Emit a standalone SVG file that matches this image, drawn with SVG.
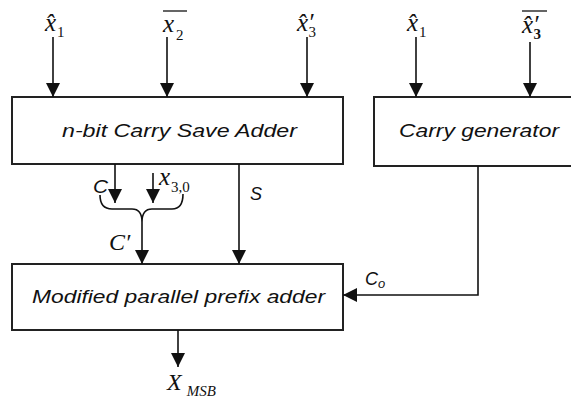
<svg xmlns="http://www.w3.org/2000/svg" width="571" height="399" viewBox="0 0 571 399">
  <defs>
    <marker id="arrow" markerUnits="userSpaceOnUse" markerWidth="14" markerHeight="14" refX="14" refY="7" orient="auto">
      <path d="M0,0 L14,7 L0,14 z" fill="#111"/>
    </marker>
    <style>
      .box { fill: #fff; stroke: #222; stroke-width: 2; }
      .wire { fill: none; stroke: #111; stroke-width: 1.6; }
      .arr { marker-end: url(#arrow); }
      .lbl { font-family: "Liberation Sans", Arial, sans-serif; font-style: italic; fill: #111; }
      .math { font-family: "Liberation Serif", "Times New Roman", serif; font-style: italic; fill: #111; }
      .sub { font-style: normal; font-size: 15px; }
      .bar { stroke: #111; stroke-width: 1.3; }
    </style>
  </defs>

  <!-- operand labels above the adders -->
  <g id="in-x1">
    <text class="math" x="45" y="31" font-size="25">x̂<tspan class="sub" dx="1" dy="6">1</tspan></text>
  </g>
  <g id="in-x2bar">
    <line class="bar" x1="163" y1="11" x2="187" y2="11"/>
    <text class="math" x="163" y="32" font-size="25">x<tspan class="sub" dx="2" dy="8">2</tspan></text>
  </g>
  <g id="in-x3p">
    <text class="math" x="297" y="31" font-size="25">x̂′<tspan class="sub" dx="-5" dy="6">3</tspan></text>
  </g>
  <g id="in-cg-x1">
    <text class="math" x="407" y="31" font-size="25">x̂<tspan class="sub" dx="1" dy="6">1</tspan></text>
  </g>
  <g id="in-cg-x3pbar">
    <line class="bar" x1="522" y1="11" x2="547" y2="11"/>
    <text class="math" x="522" y="33" font-size="25">x̂′<tspan class="sub" dx="-5" dy="6" font-weight="bold">3</tspan></text>
  </g>

  <!-- blocks -->
  <g id="csa">
    <rect class="box" x="12" y="97" width="331" height="67"/>
    <text class="lbl" x="62" y="137" font-size="18.5" textLength="235" lengthAdjust="spacingAndGlyphs">n-bit Carry Save Adder</text>
  </g>
  <g id="carry-gen">
    <rect class="box" x="374" y="97" width="205" height="69"/>
    <text class="lbl" x="399" y="137" font-size="18.5" textLength="160" lengthAdjust="spacingAndGlyphs">Carry generator</text>
  </g>
  <g id="ppa">
    <rect class="box" x="12" y="264" width="331" height="66"/>
    <text class="lbl" x="32" y="303" font-size="18.5" textLength="293" lengthAdjust="spacingAndGlyphs">Modified parallel prefix adder</text>
  </g>

  <!-- wires and signal labels -->
  <g id="connectors">
    <line class="wire arr" x1="53" y1="37" x2="53" y2="97"/>
    <line class="wire arr" x1="167" y1="37" x2="167" y2="97"/>
    <line class="wire arr" x1="307" y1="37" x2="307" y2="97"/>
    <line class="wire arr" x1="416" y1="37" x2="416" y2="97"/>
    <line class="wire arr" x1="530" y1="42" x2="530" y2="97"/>

    <line class="wire arr" x1="115" y1="164" x2="115" y2="203"/>
    <line class="wire arr" x1="153" y1="173" x2="153" y2="203"/>
    <path class="wire" d="M100,195 C100,205 104,209 112,209 L132,209 C139,209 142,213 142,222 C142,213 145,209 152,209 L172,209 C180,209 183,204 183,194"/>
    <line class="wire arr" x1="142" y1="222" x2="142" y2="264"/>
    <line class="wire arr" x1="239" y1="164" x2="239" y2="264"/>
    <polyline class="wire arr" points="478,166 478,295 343,295"/>
    <line class="wire arr" x1="178" y1="330" x2="178" y2="367"/>

    <text class="lbl" x="93" y="193" font-size="18" textLength="15" lengthAdjust="spacingAndGlyphs">C</text>
    <text class="math" x="159" y="185" font-size="25">x<tspan class="sub" dx="1" dy="7">3,0</tspan></text>
    <text class="lbl" x="250" y="200" font-size="18" textLength="12" lengthAdjust="spacingAndGlyphs">S</text>
    <text class="math" x="109" y="250" font-size="24">C′</text>
    <text class="lbl" x="365" y="285" font-size="18">C<tspan font-size="13" dy="3">o</tspan></text>
    <text class="math" x="167" y="390" font-size="24">X<tspan font-size="15" dx="5" dy="6">MSB</tspan></text>
  </g>
</svg>
